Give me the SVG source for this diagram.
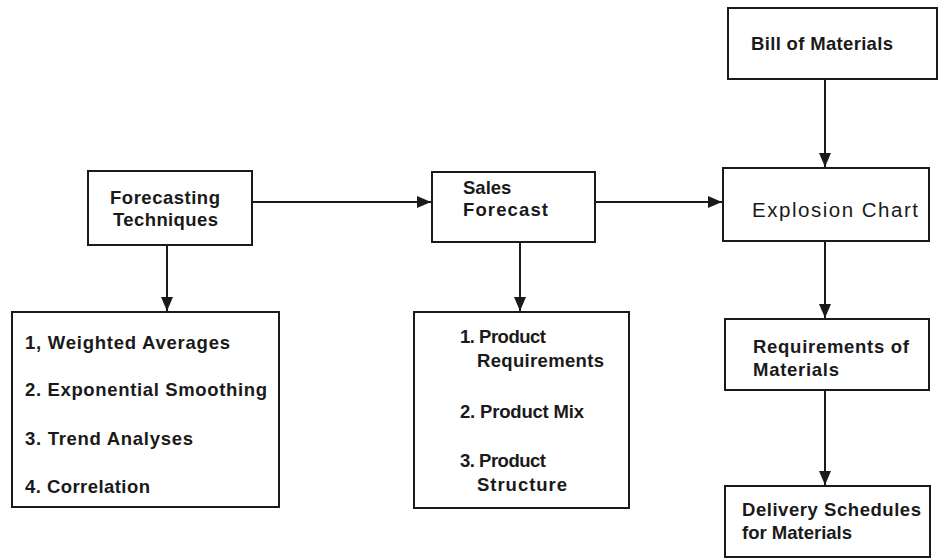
<svg xmlns="http://www.w3.org/2000/svg" width="938" height="559" viewBox="0 0 938 559">
<style>
.box{fill:#fff;stroke:#1a1a1a;stroke-width:2}
.t{font-family:"Liberation Sans",Arial,sans-serif;font-size:18.5px;font-weight:bold;fill:#1a1a1a}
.r{font-weight:normal;font-size:20.5px}
.c{fill:none;stroke:#1a1a1a;stroke-width:2}
</style>
<defs>
<marker id="ah" markerWidth="14" markerHeight="12" refX="14" refY="6" orient="auto" markerUnits="userSpaceOnUse">
<path d="M0,0 L14,6 L0,12 Z" fill="#1a1a1a"/>
</marker>
</defs>
<rect width="938" height="559" fill="#fff"/>
<g id="connectors">
<line class="c" x1="252" y1="202" x2="431" y2="202" marker-end="url(#ah)"/>
<line class="c" x1="595" y1="202" x2="722" y2="202" marker-end="url(#ah)"/>
<line class="c" x1="167" y1="245" x2="167" y2="311" marker-end="url(#ah)"/>
<line class="c" x1="520" y1="242" x2="520" y2="311" marker-end="url(#ah)"/>
<line class="c" x1="825" y1="79" x2="825" y2="167" marker-end="url(#ah)"/>
<line class="c" x1="825" y1="241" x2="825" y2="318" marker-end="url(#ah)"/>
<line class="c" x1="825" y1="390" x2="825" y2="485" marker-end="url(#ah)"/>
</g>
<g id="forecasting-techniques">
<rect class="box" x="88" y="171" width="164" height="74"/>
<text class="t" x="110" y="204" textLength="110" lengthAdjust="spacing">Forecasting</text>
<text class="t" x="113" y="226" textLength="105" lengthAdjust="spacing">Techniques</text>
</g>
<g id="techniques-list">
<rect class="box" x="12" y="312" width="267" height="195"/>
<text class="t" x="25" y="349" textLength="205" lengthAdjust="spacing">1, Weighted Averages</text>
<text class="t" x="25" y="396" textLength="242" lengthAdjust="spacing">2. Exponential Smoothing</text>
<text class="t" x="25" y="445" textLength="168" lengthAdjust="spacing">3. Trend Analyses</text>
<text class="t" x="25" y="493" textLength="125" lengthAdjust="spacing">4. Correlation</text>
</g>
<g id="sales-forecast">
<rect class="box" x="432" y="172" width="163" height="70"/>
<text class="t" x="463" y="194">Sales</text>
<text class="t" x="463" y="216" textLength="85" lengthAdjust="spacing">Forecast</text>
</g>
<g id="product-list">
<rect class="box" x="414" y="312" width="215" height="196"/>
<text class="t" x="460" y="343" textLength="86" lengthAdjust="spacing">1. Product</text>
<text class="t" x="477" y="367" textLength="127" lengthAdjust="spacing">Requirements</text>
<text class="t" x="460" y="418" textLength="124" lengthAdjust="spacing">2. Product Mix</text>
<text class="t" x="460" y="467" textLength="86" lengthAdjust="spacing">3. Product</text>
<text class="t" x="477" y="491" textLength="90" lengthAdjust="spacing">Structure</text>
</g>
<g id="bill-of-materials">
<rect class="box" x="728" y="8" width="209" height="71"/>
<text class="t" x="751" y="50" textLength="142" lengthAdjust="spacing">Bill of Materials</text>
</g>
<g id="explosion-chart">
<rect class="box" x="723" y="168" width="206" height="73"/>
<text class="t r" x="752" y="217" textLength="166" lengthAdjust="spacing">Explosion Chart</text>
</g>
<g id="requirements-of-materials">
<rect class="box" x="725" y="319" width="204" height="71"/>
<text class="t" x="753" y="353" textLength="156" lengthAdjust="spacing">Requirements of</text>
<text class="t" x="753" y="376" textLength="86" lengthAdjust="spacing">Materials</text>
</g>
<g id="delivery-schedules">
<rect class="box" x="725" y="486" width="205" height="71"/>
<text class="t" x="742" y="516" textLength="179" lengthAdjust="spacing">Delivery Schedules</text>
<text class="t" x="742" y="539">for Materials</text>
</g>
</svg>
